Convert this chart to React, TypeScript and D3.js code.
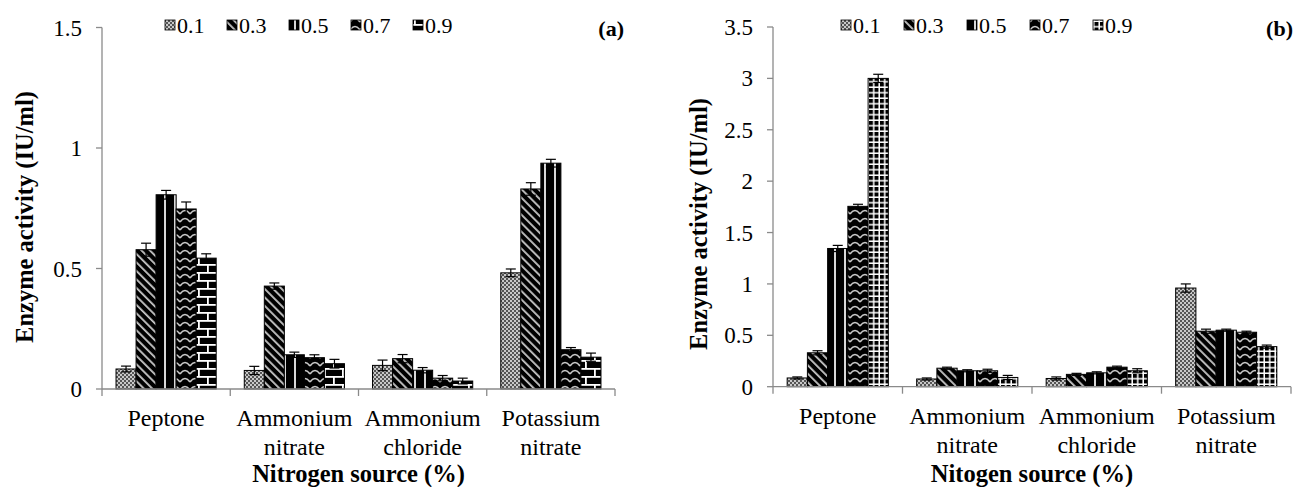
import React from "react";
import * as d3 from "d3";

const categories: string[][] = [["Peptone"], ["Ammonium", "nitrate"], ["Ammonium", "chloride"], ["Potassium", "nitrate"]];
const seriesNames = ["0.1", "0.3", "0.5", "0.7", "0.9"];

// panel (a): values[series][category]
const valuesA = [
  [0.083, 0.077, 0.098, 0.482],
  [0.578, 0.427, 0.126, 0.83],
  [0.806, 0.142, 0.078, 0.937],
  [0.747, 0.13, 0.045, 0.163],
  [0.543, 0.105, 0.033, 0.132],
];
const errA = [
  [0.012, 0.017, 0.022, 0.016],
  [0.027, 0.013, 0.017, 0.026],
  [0.018, 0.011, 0.011, 0.016],
  [0.029, 0.012, 0.011, 0.009],
  [0.018, 0.018, 0.012, 0.017],
];
const ticksA = [0, 0.5, 1, 1.5];
const tickLabelsA = ["0", "0.5", "1", "1.5"];

// panel (b)
const valuesB = [
  [0.085, 0.075, 0.08, 0.96],
  [0.33, 0.18, 0.12, 0.54],
  [1.345, 0.155, 0.135, 0.55],
  [1.755, 0.155, 0.19, 0.53],
  [3.0, 0.09, 0.155, 0.39],
];
const errB = [
  [0.01, 0.01, 0.015, 0.04],
  [0.02, 0.01, 0.01, 0.02],
  [0.03, 0.01, 0.01, 0.01],
  [0.02, 0.015, 0.01, 0.01],
  [0.04, 0.02, 0.02, 0.015],
];
const ticksB = [0, 0.5, 1, 1.5, 2, 2.5, 3, 3.5];
const tickLabelsB = ["0", "0.5", "1", "1.5", "2", "2.5", "3", "3.5"];

const FONT = "Liberation Serif";
const AXIS = "#8a8a8a";

function Patterns() {
  return (
    <defs>
      <pattern id="p01" patternUnits="userSpaceOnUse" width={4} height={4}>
        <rect width={4} height={4} fill="#c8c8c8" />
        <rect x={0} y={0} width={2} height={2} fill="#555" />
        <rect x={2} y={2} width={2} height={2} fill="#555" />
      </pattern>
      <pattern id="p03" patternUnits="userSpaceOnUse" width={6} height={6} patternTransform="rotate(-45)">
        <rect width={6} height={6} fill="#000" />
        <rect x={0} y={0} width={1.8} height={6} fill="#c8c8c8" />
      </pattern>
      <pattern id="p05" patternUnits="userSpaceOnUse" width={10} height={10}>
        <rect width={10} height={10} fill="#000" />
        <rect x={4} y={0} width={2} height={10} fill="#d8d8d8" />
      </pattern>
      <pattern id="p07" patternUnits="userSpaceOnUse" width={10} height={8}>
        <rect width={10} height={8} fill="#000" />
        <path d="M0,6 Q5,-1 10,6" fill="none" stroke="#c8c8c8" strokeWidth={1.6} />
      </pattern>
      <pattern id="p09a" patternUnits="userSpaceOnUse" width={18} height={16}>
        <rect width={18} height={16} fill="#000" />
        <rect x={0} y={0} width={18} height={1.8} fill="#fff" />
        <rect x={0} y={8} width={18} height={1.8} fill="#fff" />
        <rect x={0} y={0} width={1.8} height={8} fill="#fff" />
        <rect x={9} y={8} width={1.8} height={8} fill="#fff" />
      </pattern>
      <pattern id="p09b" patternUnits="userSpaceOnUse" width={5.5} height={5.5}>
        <rect width={5.5} height={5.5} fill="#fff" />
        <rect x={0} y={0} width={4} height={4} fill="#000" />
      </pattern>
    </defs>
  );
}

type PanelProps = {
  values: number[][];
  errs: number[][];
  ticks: number[];
  tickLabels: string[];
  max: number;
  x0: number;
  x1: number;
  y0: number;
  yTop: number;
  patterns: string[];
  legendX: number[];
  label: string;
  labelX: number;
  xTitle: string;
  yTitleX: number;
  yTitleY: number;
};

function Panel(p: PanelProps) {
  const y = d3.scaleLinear().domain([0, p.max]).range([p.y0, p.yTop]);
  const xc = d3.scaleBand<number>().domain(d3.range(categories.length)).range([p.x0, p.x1]).paddingInner(0).paddingOuter(0);
  const xs = d3.scaleBand<number>().domain(d3.range(seriesNames.length)).range([0, xc.bandwidth()]).paddingInner(0).paddingOuter(0.7);
  const bw = xs.bandwidth();
  const boundaries = d3.range(categories.length + 1).map((i) => p.x0 + i * xc.bandwidth());
  const midX = (p.x0 + p.x1) / 2;
  return (
    <g style={{ fontFamily: FONT }}>
      {/* y axis */}
      <line x1={p.x0} x2={p.x0} y1={p.yTop} y2={p.y0} stroke={AXIS} strokeWidth={1.3} />
      {p.ticks.map((t, i) => (
        <g key={i}>
          <line x1={p.x0 - 6} x2={p.x0} y1={y(t)} y2={y(t)} stroke={AXIS} strokeWidth={1.3} />
          <text x={p.x0 - 20} y={y(t)} dy="0.35em" textAnchor="end" fontSize={23}>{p.tickLabels[i]}</text>
        </g>
      ))}
      {/* bars */}
      {p.values.map((row, s) =>
        row.map((v, c) => {
          const bx = (xc(c) as number) + (xs(s) as number);
          const e = p.errs[s][c];
          const cx = bx + bw / 2;
          return (
            <g key={`${s}-${c}`}>
              <rect x={bx} y={y(v)} width={bw} height={p.y0 - y(v)} fill={`url(#${p.patterns[s]})`} stroke="#000" strokeWidth={1} />
              <line x1={cx} x2={cx} y1={y(v + e)} y2={y(v - e)} stroke="#000" strokeWidth={1.2} />
              <line x1={cx - 5} x2={cx + 5} y1={y(v + e)} y2={y(v + e)} stroke="#000" strokeWidth={1.2} />
              <line x1={cx - 5} x2={cx + 5} y1={y(v - e)} y2={y(v - e)} stroke="#000" strokeWidth={1.2} />
            </g>
          );
        })
      )}
      {/* x axis */}
      <line x1={p.x0} x2={p.x1} y1={p.y0} y2={p.y0} stroke={AXIS} strokeWidth={1.3} />
      {boundaries.map((bx, i) => (
        <line key={i} x1={bx} x2={bx} y1={p.y0} y2={p.y0 + 7} stroke={AXIS} strokeWidth={1.3} />
      ))}
      {categories.map((lines, c) => (
        <text key={c} x={(xc(c) as number) + xc.bandwidth() / 2} y={p.y0 + 37} textAnchor="middle" fontSize={24}>
          {lines.map((l, k) => (
            <tspan key={k} x={(xc(c) as number) + xc.bandwidth() / 2} dy={k === 0 ? 0 : 29}>{l}</tspan>
          ))}
        </text>
      ))}
      <text x={midX} y={482} textAnchor="middle" fontSize={24.5} fontWeight="bold">{p.xTitle}</text>
      <text transform={`translate(${p.yTitleX},${p.yTitleY}) rotate(-90)`} textAnchor="middle" dy="0.35em" fontSize={24.5} fontWeight="bold">
        Enzyme activity (IU/ml)
      </text>
      {/* legend */}
      {seriesNames.map((n, s) => (
        <g key={n}>
          <rect x={p.legendX[s]} y={20} width={10} height={10} fill={`url(#${p.patterns[s]})`} stroke="#000" strokeWidth={0.8} />
          <text x={p.legendX[s] + 12} y={25} dy="0.35em" fontSize={22}>{n}</text>
        </g>
      ))}
      <text x={p.labelX} y={28} dy="0.35em" textAnchor="end" fontSize={22} fontWeight="bold">{p.label}</text>
    </g>
  );
}

export default function App() {
  return (
    <svg width={1297} height={487} style={{ position: "absolute", left: 0, top: 0, background: "#fff" }}>
      <Patterns />
      <rect width={1297} height={487} fill="#fff" />
      <Panel
        values={valuesA}
        errs={errA}
        ticks={ticksA}
        tickLabels={tickLabelsA}
        max={1.5}
        x0={102}
        x1={615}
        y0={389}
        yTop={27.5}
        patterns={["p01", "p03", "p05", "p07", "p09a"]}
        legendX={[165, 227, 289, 351, 413]}
        label="(a)"
        labelX={624}
        xTitle="Nitrogen source (%)"
        yTitleX={24}
        yTitleY={217}
      />
      <Panel
        values={valuesB}
        errs={errB}
        ticks={ticksB}
        tickLabels={tickLabelsB}
        max={3.5}
        x0={773}
        x1={1291}
        y0={386.7}
        yTop={27}
        patterns={["p01", "p03", "p05", "p07", "p09b"]}
        legendX={[841, 904, 967, 1030, 1093]}
        label="(b)"
        labelX={1293}
        xTitle="Nitogen source (%)"
        yTitleX={698}
        yTitleY={224}
      />
    </svg>
  );
}
